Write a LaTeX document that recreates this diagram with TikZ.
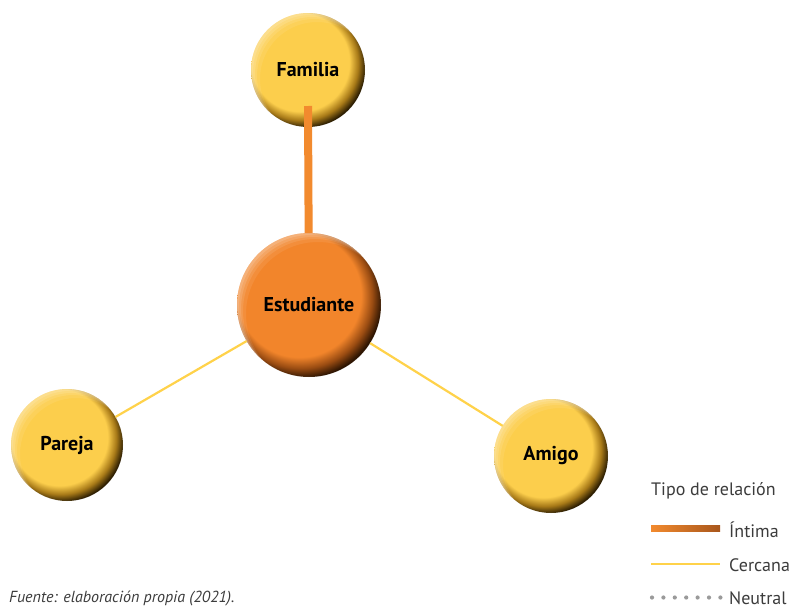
\documentclass[tikz,border=0pt]{standalone}
\usepackage{fontspec}
\setmainfont{PT Sans}
\newfontfamily\labfont{PT Sans}
\usetikzlibrary{calc}
\definecolor{ylw}{HTML}{FCCE4C}
\definecolor{ylwmid}{HTML}{A87A18}
\definecolor{ylwdark}{HTML}{2E1F02}
\definecolor{org}{HTML}{F2852B}
\definecolor{orgmid}{HTML}{9A4C12}
\definecolor{orgdark}{HTML}{2E1502}
\definecolor{lineylw}{HTML}{FFD24A}
\definecolor{lineorg}{HTML}{F28A2E}
\definecolor{lineorgdark}{HTML}{A8561C}
\definecolor{txtgray}{HTML}{3C3C3C}
\definecolor{dotgray}{HTML}{9A9A9A}
\pgfdeclareradialshading{yball}{\pgfpoint{-6bp}{6bp}}{color(0bp)=(ylw); color(21.5bp)=(ylw); color(25bp)=(ylwmid); color(28bp)=(ylwdark); color(50bp)=(ylwdark)}
\pgfdeclareradialshading{oball}{\pgfpoint{-6bp}{6bp}}{color(0bp)=(org); color(21.5bp)=(org); color(25bp)=(orgmid); color(28bp)=(orgdark); color(50bp)=(orgdark)}
\newcommand\mysphere[6]{%
  \shade[shading=#5] (#2,#3) circle (#4);
  \begin{scope}
    \clip (#2,#3) circle (#4);
    \foreach \o/\op in {2/0.14,4/0.12,6/0.1,9/0.08}
      \fill[white,opacity=\op,even odd rule] (#2,#3) circle (#4) (#2+\o,#3+\o) circle (#4);
  \end{scope}
  \node[ballnode, minimum size={2*#4}] (#1) at (#2,#3) {#6};
}
\tikzset{
  ballnode/.style={circle, inner sep=0pt, outer sep=0pt, font=\labfont\bfseries\fontsize{20}{24}\selectfont, text=black},
  cercana/.style={lineylw, line width=2.2pt},
  intima/.style={lineorg, line width=8pt},
  legtext/.style={anchor=west, inner sep=0pt, text=txtgray, font=\fontsize{18}{21}\selectfont},
}
\begin{document}
\begin{tikzpicture}[x=1pt,y=-1pt]
\useasboundingbox (0,0) rectangle (798,608);
\fill[white] (0,0) rectangle (798,608);
\mysphere{est}{309}{305}{72}{oball}{Estudiante}
\mysphere{fam}{308}{70}{57}{yball}{Familia}
\mysphere{par}{67}{445}{56}{yball}{Pareja}
\mysphere{ami}{551}{456}{57}{yball}{Amigo}
% connectors
\draw[cercana] (par) -- (est);
\draw[cercana] (est) -- (ami);
\coordinate (famtip) at (308,106);
\draw[intima] (famtip) -- (est);
% legend
\node[legtext] (legtitle) at (651,491) {Tipo de relación};
\coordinate (i1) at (651,525.5);
\coordinate (i2) at (720,531.5);
\shade[left color=lineorg, right color=lineorgdark] (i1) rectangle (i2);
\node[legtext] (lint) at (729,530) {Íntima};
\coordinate (c1) at (651,564);
\coordinate (c2) at (720,564);
\draw[cercana] (c1) -- (c2);
\node[legtext] (lcer) at (729,565) {Cercana};
\foreach \i in {0,...,6}
  \fill[dotgray] (652+\i*11.4,597.5) circle (2.1);
\node[legtext] (lneu) at (729,598) {Neutral};
\node[anchor=west, inner sep=0pt, text=txtgray, font=\itshape\fontsize{16}{19}\selectfont] (fuente) at (9,598) {Fuente: elaboración propia (2021).};
\end{tikzpicture}
\end{document}
